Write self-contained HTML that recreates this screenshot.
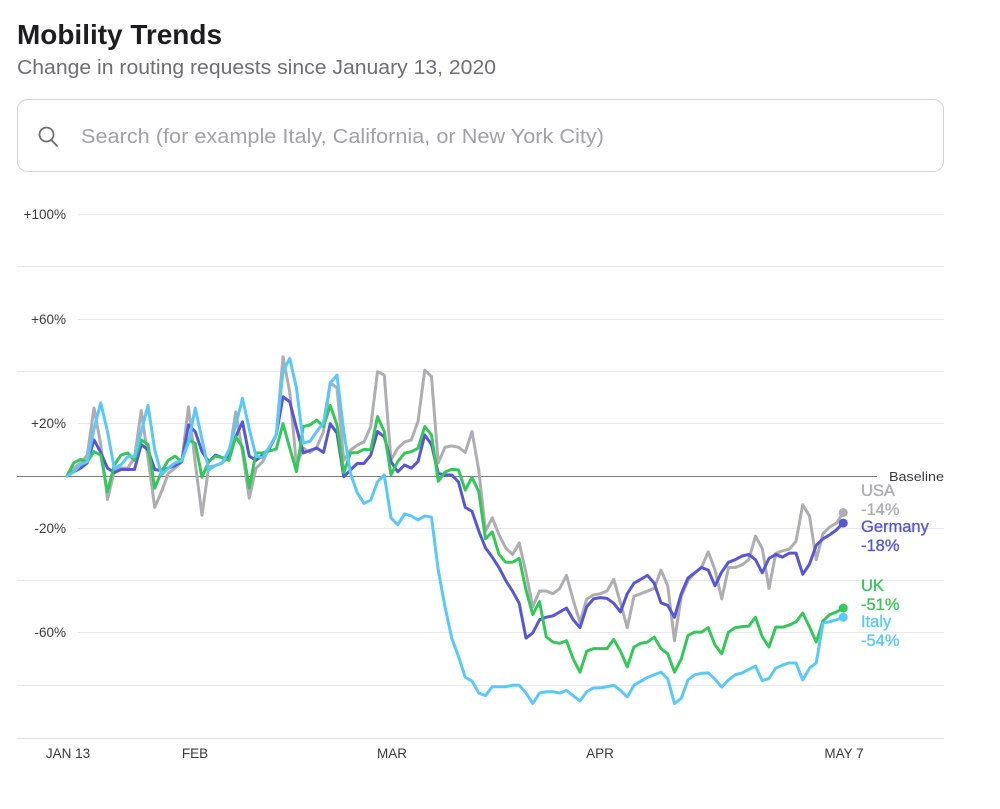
<!DOCTYPE html>
<html>
<head>
<meta charset="utf-8">
<style>
html,body{margin:0;padding:0;background:#fff;}
body{width:1000px;height:809px;overflow:hidden;}
svg{display:block;}
text{font-family:"Liberation Sans", Arial, sans-serif;}
.series{fill:none;stroke-width:3;stroke-linejoin:round;stroke-linecap:round;vector-effect:non-scaling-stroke;}
</style>
</head>
<body>
<svg width="1000" height="809" viewBox="0 0 1000 809" xmlns="http://www.w3.org/2000/svg">
  <rect x="0" y="0" width="1000" height="809" fill="#fff"/>
  <!-- Title -->
  <text x="17" y="44" font-size="28" font-weight="bold" fill="#1d1d1f" textLength="205" lengthAdjust="spacingAndGlyphs">Mobility Trends</text>
  <text x="17" y="74" font-size="20" fill="#6e6e73" textLength="479" lengthAdjust="spacingAndGlyphs">Change in routing requests since January 13, 2020</text>

  <!-- Search box -->
  <rect x="17.5" y="99.5" width="926" height="72" rx="10" ry="10" fill="#fff" stroke="#d2d2d7" stroke-width="1"/>
  <circle cx="46.5" cy="134.5" r="7" fill="none" stroke="#6e6e73" stroke-width="1.8"/>
  <line x1="51.5" y1="140" x2="57" y2="146" stroke="#6e6e73" stroke-width="1.8" stroke-linecap="round"/>
  <text x="81" y="143" font-size="20.5" fill="#a1a1a6" textLength="523" lengthAdjust="spacingAndGlyphs">Search (for example Italy, California, or New York City)</text>

  <!-- Gridlines -->
  <g stroke="#e8e8ed" stroke-width="1">
    <line x1="78" y1="214.5" x2="944" y2="214.5"/>
    <line x1="17" y1="266.5" x2="944" y2="266.5"/>
    <line x1="78" y1="319.5" x2="944" y2="319.5"/>
    <line x1="17" y1="371.5" x2="944" y2="371.5"/>
    <line x1="78" y1="423.5" x2="944" y2="423.5"/>
    <line x1="78" y1="528.5" x2="944" y2="528.5"/>
    <line x1="17" y1="580.5" x2="944" y2="580.5"/>
    <line x1="78" y1="632.5" x2="944" y2="632.5"/>
    <line x1="17" y1="685.5" x2="944" y2="685.5"/>
  </g>
  <line x1="17" y1="738.5" x2="944" y2="738.5" stroke="#dedee3" stroke-width="1"/>
  <line x1="17" y1="476.5" x2="877" y2="476.5" stroke="#7a7a7a" stroke-width="1"/>
  <text x="889" y="481" font-size="13" fill="#3a3a3c" textLength="55" lengthAdjust="spacingAndGlyphs">Baseline</text>

  <!-- Y labels -->
  <g font-size="13.5" fill="#3a3a3c" text-anchor="end">
    <text x="66" y="219">+100%</text>
    <text x="66" y="324">+60%</text>
    <text x="66" y="428">+20%</text>
    <text x="66" y="533">-20%</text>
    <text x="66" y="637">-60%</text>
  </g>

  <!-- X labels -->
  <g font-size="13.5" fill="#3a3a3c" text-anchor="middle">
    <text x="68" y="758">JAN 13</text>
    <text x="195" y="758">FEB</text>
    <text x="392" y="758">MAR</text>
    <text x="600" y="758">APR</text>
    <text x="844" y="758">MAY 7</text>
  </g>

  <!-- Series -->
  <g transform="translate(67,476) scale(6.75,-2.615)">
    <polyline class="series" stroke="#aeaeb2" points="0,0 1,3 2,5 3,8 4,26 5,12 6,-9 7,2 8,3 9,3 10,7 11,25 12,7 13,-12 14,-6 15,1 16,3 17,5.5 18,26.5 19,5 20,-15 21,3.5 22,4 23,5 24,7.6 25,24.5 26,9 27,-8.5 28,3 29,5.5 30,10.7 31,15.7 32,45.6 33,32 34,4 35,10.7 36,9 37,11 38,17 39,35.6 40,33.7 41,6 42,9.9 43,11.8 44,13 45,18.9 46,39.9 47,38.6 48,6 49,10.6 50,13 51,13.8 52,20.8 53,40.5 54,38 55,5 56,11 57,11.5 58,11 59,9 60,17 61,2.3 62,-21 63,-16 64,-22.5 65,-27.5 66,-30 67,-25.6 68,-37 69,-50 70,-44 71,-44 72,-45 73,-43 74,-38 75,-47.5 76,-56 77,-47 78,-45.5 79,-45 80,-44 81,-39.5 82,-48.6 83,-58 84,-46 85,-45 86,-44 87,-43 88,-36 89,-42 90,-63 91,-46 92,-40 93,-37 94,-35 95,-29 96,-36 97,-47 98,-35 99,-35 100,-34 101,-32 102,-23 103,-27.7 104,-43 105,-29.6 106,-28.6 107,-28 108,-25 109,-11 110,-15.3 111,-32 112,-22 113,-19.5 114,-18 115,-14"/>
    <polyline class="series" stroke="#5856d6" points="0,0 1,1.6 2,3 3,5 4,13.8 5,9 6,3 7,1.3 8,2.5 9,2.5 10,2.5 11,12 12,10 13,2.5 14,2 15,3 16,4 17,5.5 18,19.5 19,17 20,9.3 21,5.5 22,8 23,7 24,7 25,15 26,20.7 27,7.6 28,6 29,8 30,10.7 31,15.7 32,30.3 33,28.4 34,18.4 35,8.8 36,9.8 37,10.7 38,9 39,20 40,16.4 41,-0.3 42,2.3 43,4.8 44,4.8 45,8 46,17 47,15 48,5.5 49,1.6 50,4.2 51,3 52,5.5 53,15.7 54,12 55,1 56,0.4 57,0.4 58,-2.3 59,-12 60,-13.5 61,-21 62,-27.5 63,-31 64,-35 65,-40 66,-44 67,-48.7 68,-62 69,-60 70,-55 71,-54 72,-53.5 73,-52 74,-50.5 75,-55 76,-58 77,-50 78,-47 79,-46.5 80,-46.8 81,-48.7 82,-52 83,-45 84,-41 85,-39.5 86,-38 87,-41 88,-48.5 89,-49.5 90,-54 91,-45 92,-39 93,-37 94,-35 95,-36 96,-42 97,-36.7 98,-33 99,-32 100,-30.6 101,-30 102,-32 103,-37 104,-31.5 105,-30 106,-31 107,-29.5 108,-29.5 109,-37.6 110,-33.7 111,-26.5 112,-24 113,-22.5 114,-20.6 115,-18"/>
    <polyline class="series" stroke="#34c759" points="0,0 1,5 2,6.4 3,5.5 4,9.3 5,8 6,-6 7,4.2 8,8 9,8.8 10,6 11,13.8 12,12 13,-4.7 14,1.7 15,6 16,7.6 17,5.5 18,13.8 19,12.5 20,-0.5 21,5.5 22,7.6 23,7 24,6 25,15 26,11 27,-4.6 28,8.8 29,8.8 30,9.6 31,10.3 32,20 33,10.7 34,1.7 35,18.9 36,19.5 37,21.4 38,18.9 39,27 40,19.5 41,1.2 42,8.9 43,8.9 44,10.2 45,10 46,22.7 47,17 48,0.4 49,5.5 50,8.7 51,9.3 52,10.6 53,18.9 54,15.7 55,-2 56,1.5 57,2.6 58,2.3 59,-5.4 60,-0.5 61,-6 62,-24 63,-21.4 64,-30 65,-33 66,-33 67,-31.5 68,-43.6 69,-53 70,-48 71,-61.5 72,-63.5 73,-64 74,-63 75,-70 76,-75 77,-67 78,-66 79,-66 80,-66 81,-62.5 82,-67 83,-73 84,-65.4 85,-64 86,-63.5 87,-61.6 88,-66 89,-68 90,-75 91,-70 92,-61 93,-59.7 94,-59.7 95,-58 96,-64.6 97,-68 98,-59.7 99,-58 100,-57.6 101,-57.4 102,-54 103,-61.5 104,-65.4 105,-57.8 106,-57.8 107,-57 108,-55.8 109,-52.4 110,-57.7 111,-63.5 112,-55.4 113,-53 114,-52 115,-50.5"/>
    <polyline class="series" stroke="#5ac8fa" points="0,0 1,1.5 2,4.3 3,5.5 4,18 5,28 6,17 7,3 8,4.3 9,7.4 10,7.4 11,17 12,27 13,10 14,0.5 15,3 16,5 17,6 18,12.6 19,26 20,14 21,2.3 22,4 23,5 24,10 25,19.5 26,29.7 27,18 28,7.6 29,7 30,11.2 31,15.7 32,39.9 33,45 34,33.6 35,12.6 36,13.3 37,17 38,20.3 39,35.6 40,38.6 41,17 42,1 43,-6.4 44,-10.5 45,-9.2 46,-2.2 47,0.4 48,-16 49,-18.7 50,-14.5 51,-15.3 52,-16.8 53,-15.3 54,-15.7 55,-36 56,-50 57,-62 58,-69 59,-77 60,-78.4 61,-83 62,-84 63,-80.6 64,-80.6 65,-80.6 66,-80 67,-80 68,-83 69,-87 70,-83 71,-82.5 72,-82.5 73,-83 74,-82 75,-84 76,-86 77,-82.5 78,-81 79,-81 80,-80.6 81,-80 82,-82 83,-84.5 84,-80 85,-78.5 86,-77 87,-76 88,-75 89,-77.6 90,-87 91,-85 92,-78 93,-76 94,-75.5 95,-75.3 96,-77.7 97,-80.7 98,-78 99,-76 100,-75.3 101,-74 102,-72.7 103,-78.3 104,-77.4 105,-73.5 106,-72.3 107,-71.5 108,-71.5 109,-78 110,-73.5 111,-71.5 112,-56.3 113,-55.7 114,-55 115,-54"/>
  </g>

  <!-- End dots -->
  <circle cx="843.25" cy="512.6" r="4.5" fill="#aeaeb2"/>
  <circle cx="843.25" cy="523.1" r="4.5" fill="#5856d6"/>
  <circle cx="843.25" cy="608.1" r="4.5" fill="#34c759"/>
  <circle cx="843.25" cy="617.2" r="4.5" fill="#5ac8fa"/>

  <!-- Right labels -->
  <g font-size="16.5" stroke-width="0.35">
    <text x="861" y="496" fill="#aeaeb2" stroke="#aeaeb2">USA</text>
    <text x="861" y="515" fill="#aeaeb2" stroke="#aeaeb2">-14%</text>
    <text x="861" y="532" fill="#5856d6" stroke="#5856d6">Germany</text>
    <text x="861" y="551" fill="#5856d6" stroke="#5856d6">-18%</text>
    <text x="861" y="591" fill="#34c759" stroke="#34c759">UK</text>
    <text x="861" y="610" fill="#34c759" stroke="#34c759">-51%</text>
    <text x="861" y="627" fill="#5ac8fa" stroke="#5ac8fa">Italy</text>
    <text x="861" y="646" fill="#5ac8fa" stroke="#5ac8fa">-54%</text>
  </g>
</svg>
</body>
</html>
